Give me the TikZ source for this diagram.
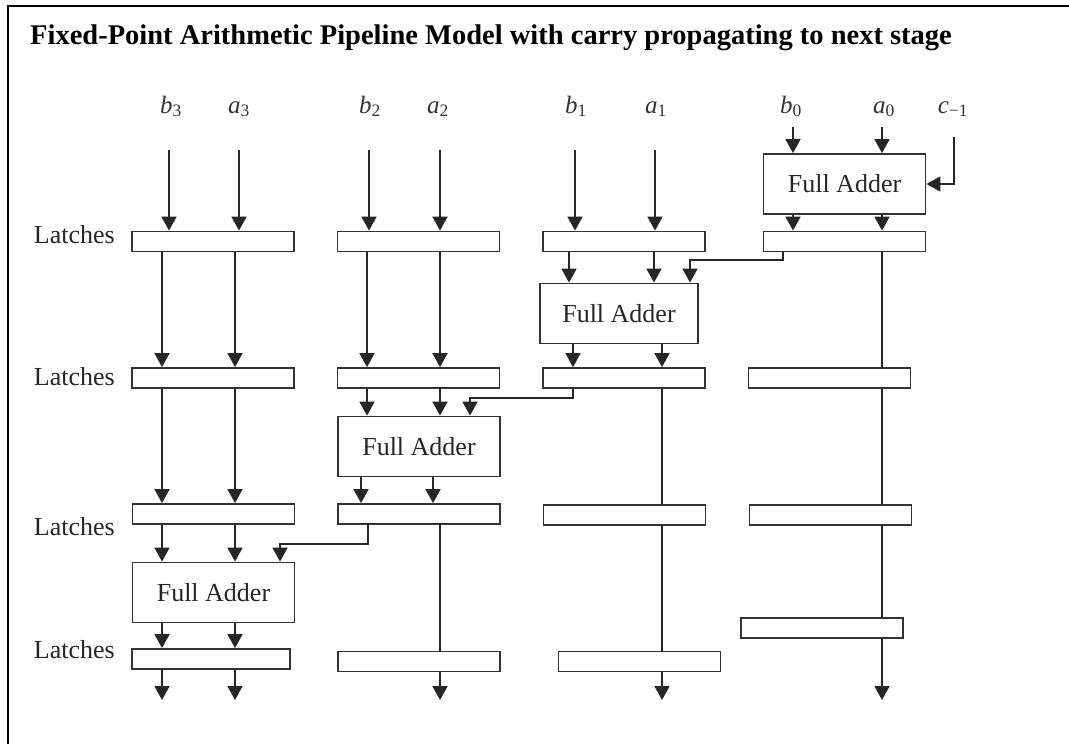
\documentclass[tikz,border=0pt]{standalone}
\usepackage{fontspec}
\setmainfont{Liberation Serif}
\usetikzlibrary{arrows.meta, positioning}
\newcommand{\sg}[2]{\textit{#1}\textsubscript{#2}}

\begin{document}
\begin{tikzpicture}[x=1pt, y=-1pt,
    latch/.style={rectangle, draw=black!80, line width=1.8pt, fill=white,
                  minimum width=162pt, minimum height=20pt, inner sep=0pt},
    adder/.style={rectangle, draw=black!80, line width=1.8pt,
                  minimum width=162pt, minimum height=60pt, text=black!85,
                  font=\fontsize{26}{30}\selectfont},
    lab/.style={anchor=base east, inner sep=0pt, text=black!85, font=\fontsize{26}{30}\selectfont},
    inp/.style={anchor=base, inner sep=0pt, text=black!80, font=\fontsize{25}{29}\selectfont},
    sig/.style={-{Triangle[length=14pt, width=15pt]}, line width=1.8pt, draw=black!85},
    wire/.style={line width=1.8pt, draw=black!85}
]
    \useasboundingbox (0,0) rectangle (1069,744);
    % frame and title
    \draw[line width=2.5pt] (8,744) -- (8,6) -- (1069,6);
    \node[anchor=base west, inner sep=0pt, font=\bfseries\fontsize{28.5}{32}\selectfont] (title) at (30,45)
        {Fixed-Point Arithmetic Pipeline Model with carry propagating to next stage};

    % operand labels
    \node[inp] (b3) at (171,113) {\sg{b}{3}};
    \node[inp] (a3) at (239,113) {\sg{a}{3}};
    \node[inp] (b2) at (370,113) {\sg{b}{2}};
    \node[inp] (a2) at (438,113) {\sg{a}{2}};
    \node[inp] (b1) at (576,113) {\sg{b}{1}};
    \node[inp] (a1) at (656,113) {\sg{a}{1}};
    \node[inp] (b0) at (791,113) {\sg{b}{0}};
    \node[inp] (a0) at (884,113) {\sg{a}{0}};
    \node[inp] (cm) at (953,113) {\sg{c}{−1}};

    % wire starts and columns
    \coordinate (t3b) at (169,150);
    \coordinate (t3a) at (239,150);
    \coordinate (t2b) at (369,150);
    \coordinate (t2a) at (440,150);
    \coordinate (t1b) at (575,150);
    \coordinate (t1a) at (655,150);
    \coordinate (t0b) at (793,127);
    \coordinate (t0a) at (882,127);
    \coordinate (tc) at (954,137);
    \coordinate (x3b) at (162,0);
    \coordinate (x3a) at (235,0);
    \coordinate (x2b) at (367,0);
    \coordinate (x2a) at (440,0);
    \coordinate (f2b) at (361,0);
    \coordinate (f2a) at (433,0);
    \coordinate (x1b) at (569,0);
    \coordinate (x1a) at (654,0);
    \coordinate (f1b) at (573,0);
    \coordinate (f1a) at (662,0);
    \coordinate (bot) at (0,700);

    % row labels
    \node[lab] (lt1) at (115,243) {Latches};
    \node[lab] (lt2) at (115,385) {Latches};
    \node[lab] (lt3) at (115,535) {Latches};
    \node[lab] (lt4) at (115,658) {Latches};

    % latches
    \node[latch] (l31) at (213,241.5) {};
    \node[latch] (l21) at (418.5,241.5) {};
    \node[latch] (l11) at (624,241.5) {};
    \node[latch] (l01) at (844.5,241.5) {};
    \node[latch] (l32) at (213,378) {};
    \node[latch] (l22) at (418.5,378) {};
    \node[latch] (l12) at (624,378) {};
    \node[latch] (l02) at (829.5,378) {};
    \node[latch] (l33) at (213.5,514) {};
    \node[latch] (l23) at (419,514) {};
    \node[latch] (l13) at (624.5,515) {};
    \node[latch] (l03) at (830.5,515) {};
    \node[latch] (l0x) at (822,628) {};
    \node[latch, minimum width=158pt] (l34) at (211,659) {};
    \node[latch] (l24) at (419,661.5) {};
    \node[latch] (l14) at (639.5,661.5) {};

    % full adders
    \node[adder] (fa0) at (844.5,184) {Full Adder};
    \node[adder, minimum width=158pt] (fa1) at (619,313.5) {Full Adder};
    \node[adder] (fa2) at (419,446.5) {Full Adder};
    \node[adder] (fa3) at (213.5,592.5) {Full Adder};

    % bit 3
    \draw[sig] (t3b) -- (l31.north -| t3b);
    \draw[sig] (t3a) -- (l31.north -| t3a);
    \draw[sig] (l31.south -| x3b) -- (l32.north -| x3b);
    \draw[sig] (l31.south -| x3a) -- (l32.north -| x3a);
    \draw[sig] (l32.south -| x3b) -- (l33.north -| x3b);
    \draw[sig] (l32.south -| x3a) -- (l33.north -| x3a);
    \draw[sig] (l33.south -| x3b) -- (fa3.north -| x3b);
    \draw[sig] (l33.south -| x3a) -- (fa3.north -| x3a);
    \draw[sig] (fa3.south -| x3b) -- (l34.north -| x3b);
    \draw[sig] (fa3.south -| x3a) -- (l34.north -| x3a);
    \draw[sig] (l34.south -| x3b) -- (x3b |- bot);
    \draw[sig] (l34.south -| x3a) -- (x3a |- bot);

    % bit 2
    \draw[sig] (t2b) -- (l21.north -| t2b);
    \draw[sig] (t2a) -- (l21.north -| t2a);
    \draw[sig] (l21.south -| x2b) -- (l22.north -| x2b);
    \draw[sig] (l21.south -| x2a) -- (l22.north -| x2a);
    \draw[sig] (l22.south -| x2b) -- (fa2.north -| x2b);
    \draw[sig] (l22.south -| x2a) -- (fa2.north -| x2a);
    \draw[sig] (fa2.south -| f2b) -- (l23.north -| f2b);
    \draw[sig] (fa2.south -| f2a) -- (l23.north -| f2a);
    \draw[wire] (l23.south -| x2a) -- (l24.north -| x2a);
    \draw[sig] (l24.south -| x2a) -- (x2a |- bot);

    % bit 1
    \draw[sig] (t1b) -- (l11.north -| t1b);
    \draw[sig] (t1a) -- (l11.north -| t1a);
    \draw[sig] (l11.south -| x1b) -- (fa1.north -| x1b);
    \draw[sig] (l11.south -| x1a) -- (fa1.north -| x1a);
    \draw[sig] (fa1.south -| f1b) -- (l12.north -| f1b);
    \draw[sig] (fa1.south -| f1a) -- (l12.north -| f1a);
    \draw[wire] (l12.south -| f1a) -- (l13.north -| f1a);
    \draw[wire] (l13.south -| f1a) -- (l14.north -| f1a);
    \draw[sig] (l14.south -| f1a) -- (f1a |- bot);

    % bit 0
    \draw[sig] (t0b) -- (fa0.north -| t0b);
    \draw[sig] (t0a) -- (fa0.north -| t0a);
    \draw[sig] (tc) |- (fa0.east);
    \draw[sig] (fa0.south -| t0b) -- (l01.north -| t0b);
    \draw[sig] (fa0.south -| t0a) -- (l01.north -| t0a);
    \draw[wire] (l01.south -| t0a) -- (l02.north -| t0a);
    \draw[wire] (l02.south -| t0a) -- (l03.north -| t0a);
    \draw[wire] (l03.south -| t0a) -- (l0x.north -| t0a);
    \draw[sig] (l0x.south -| t0a) -- (t0a |- bot);

    % carries
    \coordinate (o0) at (783,0);
    \coordinate (k0) at (690,260);
    \coordinate (o1) at (573,0);
    \coordinate (k1) at (470,398);
    \coordinate (o2) at (368,0);
    \coordinate (k2) at (280,544);
    \draw[sig] (l01.south -| o0) |- (k0) -- (fa1.north -| k0);
    \draw[sig] (l12.south -| o1) |- (k1) -- (fa2.north -| k1);
    \draw[sig] (l23.south -| o2) |- (k2) -- (fa3.north -| k2);
\end{tikzpicture}
\end{document}
